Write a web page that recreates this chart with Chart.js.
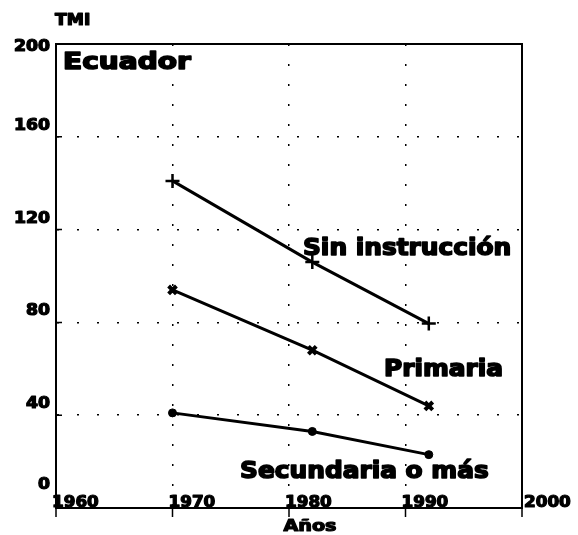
<!DOCTYPE html>
<html>
<head>
<meta charset="utf-8">
<script src="https://cdn.jsdelivr.net/npm/chart.js@4.4.0/dist/chart.umd.min.js"></script>
<style>
  body { margin: 0; background: #fff; }
  #wrap { width: 578px; height: 535px; }
</style>
</head>
<body>
<div id="wrap"><canvas id="grafico" width="578" height="535"></canvas></div>
<script>
const years = [1970, 1982, 1992]
const sinInstruccion = [141, 106, 79.5]
const primaria = [94, 68, 44]
const secundaria = [41, 33, 23]

const xTicks = [1960, 1970, 1980, 1990, 2000]
const yTicks = [0, 40, 80, 120, 160, 200]

// etiquetas de las series, en unidades del grafico (año, TMI)
const etiquetas = [
    { text: "Sin instrucción", x: 1981.2, y: 109 },
    { text: "Primaria", x: 1988.15, y: 56.9 },
    { text: "Secundaria o más", x: 1975.8, y: 12.9 }
]

const FONT = '"DejaVu Sans"'

function texto(ctx, str, x, y, size, sx, align, grosor) {
    ctx.save()
    ctx.font = `bold ${size}px ${FONT}`
    ctx.textAlign = "left"
    ctx.textBaseline = "alphabetic"
    ctx.fillStyle = "#000"
    ctx.strokeStyle = "#000"
    ctx.lineJoin = "round"
    const w = ctx.measureText(str).width * sx
    let left = x
    if (align === "right") left = x - w
    if (align === "center") left = x - w / 2
    ctx.translate(left, y)
    ctx.scale(sx, 1)
    ctx.fillText(str, 0, 0)
    ctx.lineWidth = grosor || 1
    ctx.strokeText(str, 0, 0)
    ctx.restore()
}

const puntos = vals => years.map((x, i) => ({ x, y: vals[i] }))

const marco = {
    id: "marco",
    afterDraw(chart) {
        const { ctx, chartArea: a, scales: { x, y } } = chart
        ctx.save()
        ctx.strokeStyle = "#000"
        ctx.lineWidth = 2
        ctx.strokeRect(a.left, a.top, a.right - a.left, a.bottom - a.top)

        // marcas de los ejes
        ctx.lineWidth = 1.5
        ctx.beginPath()
        xTicks.forEach(t => {
            const px = x.getPixelForValue(t)
            ctx.moveTo(px, a.bottom - 4)
            ctx.lineTo(px, a.bottom + 9)
        })
        yTicks.slice(1, -1).forEach(t => {
            const py = y.getPixelForValue(t)
            ctx.moveTo(a.left, py)
            ctx.lineTo(a.left + 6, py)
        })
        ctx.stroke()
        ctx.restore()

        xTicks.forEach((t, i) => {
            const px = x.getPixelForValue(t)
            texto(ctx, String(t), i === xTicks.length - 1 ? px + 2 : px - 4, a.bottom - 1, 15, 1.12, "left", 1.2)
        })
        yTicks.forEach(t => {
            const py = y.getPixelForValue(t)
            let base = py - 7
            if (t === 0) base = py - 19
            if (t === 200) base = py + 7
            texto(ctx, String(t), a.left - 6, base, 15, 1.15, "right", 1.2)
        })

        texto(ctx, "TMI", a.left - 1, 25, 15, 1.15, "left", 1.2)
        texto(ctx, "Años", x.getPixelForValue(1981.8), 531, 16, 1.2, "center", 1.2)
        texto(ctx, "Ecuador", x.getPixelForValue(1960.6), y.getPixelForValue(189.4), 23, 1.22, "left", 1.6)

        etiquetas.forEach(e => {
            texto(ctx, e.text, x.getPixelForValue(e.x), y.getPixelForValue(e.y), 23, 1.08, "left", 1.6)
        })
    }
}

const serie = (label, vals, pointStyle, radius, bw) => ({
    label,
    data: puntos(vals),
    borderColor: "#000",
    backgroundColor: "#000",
    borderWidth: 3,
    pointStyle,
    pointRadius: radius,
    pointBorderWidth: bw,
    pointBorderColor: "#000",
    pointBackgroundColor: "#000",
    tension: 0
})

new Chart(document.getElementById("grafico"), {
    type: "line",
    data: {
        datasets: [
            serie("Sin instrucción", sinInstruccion, "cross", 7, 2.5),
            serie("Primaria", primaria, "crossRot", 5.5, 4),
            serie("Secundaria o más", secundaria, "circle", 4, 1)
        ]
    },
    options: {
        responsive: false,
        animation: false,
        layout: { padding: { left: 56, right: 56, top: 44, bottom: 27 } },
        plugins: { legend: { display: false }, tooltip: { enabled: false } },
        scales: {
            x: {
                type: "linear",
                min: 1960,
                max: 2000,
                ticks: { display: false, stepSize: 10 },
                grid: { color: "#000", lineWidth: 1.5, drawTicks: false },
                border: { display: true, color: "#000", width: 2, dash: [2, 18] }
            },
            y: {
                min: 0,
                max: 200,
                ticks: { display: false, stepSize: 40 },
                grid: { color: "#000", lineWidth: 1.5, drawTicks: false },
                border: { display: true, color: "#000", width: 2, dash: [2, 18] }
            }
        }
    },
    plugins: [marco]
})
</script>
</body>
</html>
